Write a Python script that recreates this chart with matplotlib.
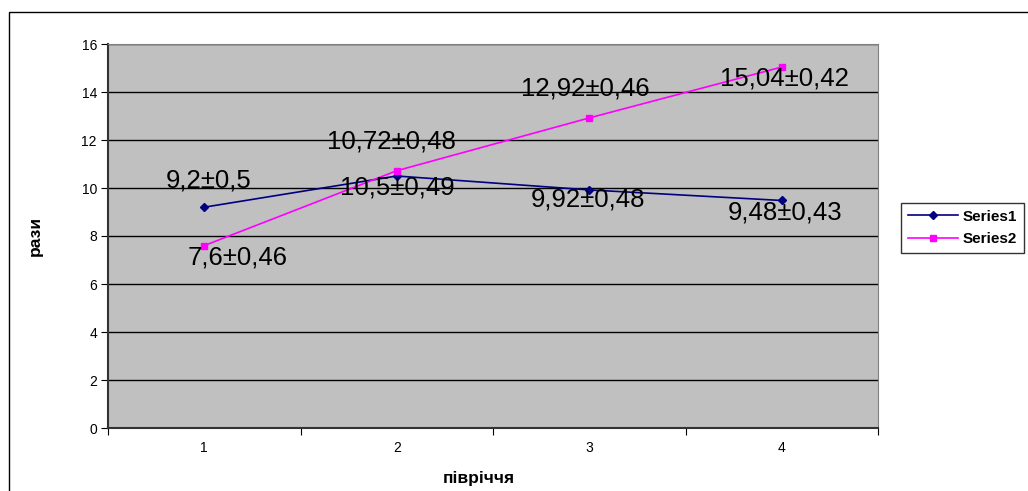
import matplotlib.pyplot as plt
import matplotlib.patches as patches
from matplotlib.ticker import FixedLocator, NullFormatter

plt.rcParams['font.family'] = ['Liberation Sans', 'DejaVu Sans']

# data
periods = [1, 2, 3, 4]
series1 = [9.2, 10.5, 9.92, 9.48]
series2 = [7.6, 10.72, 12.92, 15.04]
labels1 = ['9,2±0,5', '10,5±0,49', '9,92±0,48', '9,48±0,43']
labels2 = ['7,6±0,46', '10,72±0,48', '12,92±0,46', '15,04±0,42']
# label offsets in pixels (dx, dy)
offs1 = [(4, 27), (1, -12), (-1, -10), (3, -12)]
offs2 = [(33, -12), (-5, 29), (-4, 29), (3, -11)]

fig = plt.figure(figsize=(10.28, 4.91), dpi=100)
fig.add_artist(patches.Rectangle((9 / 1028, -0.1), 1.2, 1 - 12 / 491 + 0.1,
                                 transform=fig.transFigure, fill=False,
                                 edgecolor='black', linewidth=1))

ax = fig.add_axes([108 / 1028, 1 - 428 / 491, 770 / 1028, 384 / 491])
ax.set_facecolor('#C0C0C0')
ax.set_xlim(0.5, 4.5)
ax.set_ylim(0, 16)

ax.set_yticks(range(0, 17, 2))
ax.yaxis.grid(True, color='black', linewidth=1)
ax.set_axisbelow(True)

# category boundaries as major ticks, labels at centres
ax.xaxis.set_major_locator(FixedLocator([0.5, 1.5, 2.5, 3.5, 4.5]))
ax.xaxis.set_major_formatter(NullFormatter())
ax.xaxis.set_minor_locator(FixedLocator(periods))
ax.set_xticklabels([str(p) for p in periods], minor=True)
ax.tick_params(axis='x', which='minor', length=0, pad=9, labelsize=10)
ax.tick_params(axis='x', which='major', length=5, direction='out', color='black')
ax.tick_params(axis='y', length=5, direction='out', labelsize=10, pad=3)

for s in ['top', 'right']:
    ax.spines[s].set_color('#808080')
for s in ['left', 'bottom']:
    ax.spines[s].set_color('#333333')
    ax.spines[s].set_linewidth(1.5)

ax.plot(periods, series1, color='#000080', marker='D', markersize=4,
        linewidth=1.2, label='Series1', zorder=3)
ax.plot(periods, series2, color='#FF00FF', marker='s', markersize=5,
        linewidth=1.2, label='Series2', zorder=3)

for x, y, t, o in zip(periods, series1, labels1, offs1):
    ax.annotate(t, (x, y), xytext=o, textcoords='offset pixels',
                ha='center', va='center', fontsize=18.5, zorder=4)
for x, y, t, o in zip(periods, series2, labels2, offs2):
    ax.annotate(t, (x, y), xytext=o, textcoords='offset pixels',
                ha='center', va='center', fontsize=18.5, zorder=4)

fig.text(35 / 1028, 1 - 236 / 491, 'рази', rotation=90, ha='center', va='center',
         fontsize=12.5, fontweight='bold')
fig.text(479 / 1028, 1 - 479 / 491, 'півріччя', ha='center', va='center',
         fontsize=12.5, fontweight='bold')

leg = ax.legend(loc='center left', bbox_to_anchor=(901 / 1028, 1 - 228 / 491),
                bbox_transform=fig.transFigure, frameon=True, fancybox=False,
                prop={'weight': 'bold', 'size': 11}, handlelength=3.3,
                borderpad=0.45, labelspacing=0.55, handletextpad=0.26,
                borderaxespad=0)
leg.get_frame().set_edgecolor('black')
leg.get_frame().set_linewidth(1)

fig.savefig('out.png', dpi=100)
